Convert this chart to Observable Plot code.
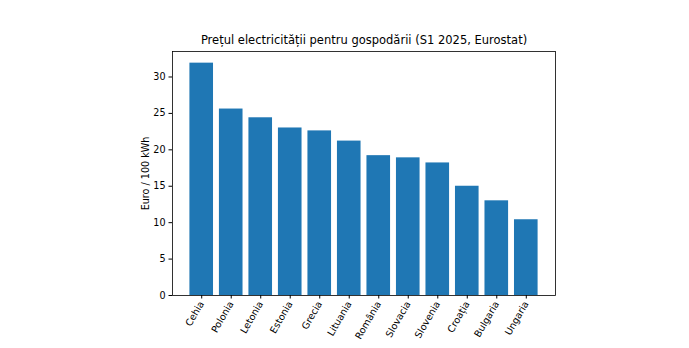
<!DOCTYPE html>
<html><head><meta charset="utf-8">
<script src="https://cdn.jsdelivr.net/npm/d3@7"></script>
<script src="https://cdn.jsdelivr.net/npm/@observablehq/plot@0.6"></script>
<style>body{margin:0;background:#fff}svg{display:block}</style>
</head><body><div id="chart"></div>
<script>
const countries = ["Cehia","Polonia","Letonia","Estonia","Grecia","Lituania","România","Slovacia","Slovenia","Croația","Bulgaria","Ungaria"];
const prices = [31.9, 25.6, 24.4, 23.0, 22.6, 21.2, 19.2, 18.9, 18.2, 15.0, 13.0, 10.4];
const yTicks = [0, 5, 10, 15, 20, 25, 30];
const title = "Prețul electricității pentru gospodării (S1 2025, Eurostat)";
const yLabel = "Euro / 100 kWh";

const data = countries.map((c, i) => ({country: c, price: prices[i]}));

const chart = Plot.plot({
  width: 689, height: 348,
  marginLeft: 172, marginRight: 134, marginTop: 51, marginBottom: 53,
  style: {fontFamily: "DejaVu Sans", fontSize: "9.6px", color: "#000", background: "#fff"},
  x: {domain: countries, paddingInner: 0.2, paddingOuter: 0.59, round: false, label: null},
  y: {domain: [0, 33.5], ticks: yTicks, label: null},
  marks: [
    Plot.barY(data, {x: "country", y: "price", fill: "#1f77b4"}),
    Plot.axisY({ticks: yTicks, tickSize: 3.5, tickPadding: 3.5, stroke: "#000", label: yLabel, labelAnchor: "center", labelArrow: "none", labelOffset: 30}),
    Plot.axisX({tickSize: 3.5, tickPadding: 3, tickRotate: -60, stroke: "#000", label: null}),
    Plot.frame({stroke: "#000", strokeWidth: 0.8}),
    Plot.text([title], {frameAnchor: "top", lineAnchor: "middle", dy: -11, text: d => d, fontSize: 11.5, fill: "#000"})
  ]
});
document.getElementById("chart").append(chart);
</script></body></html>
